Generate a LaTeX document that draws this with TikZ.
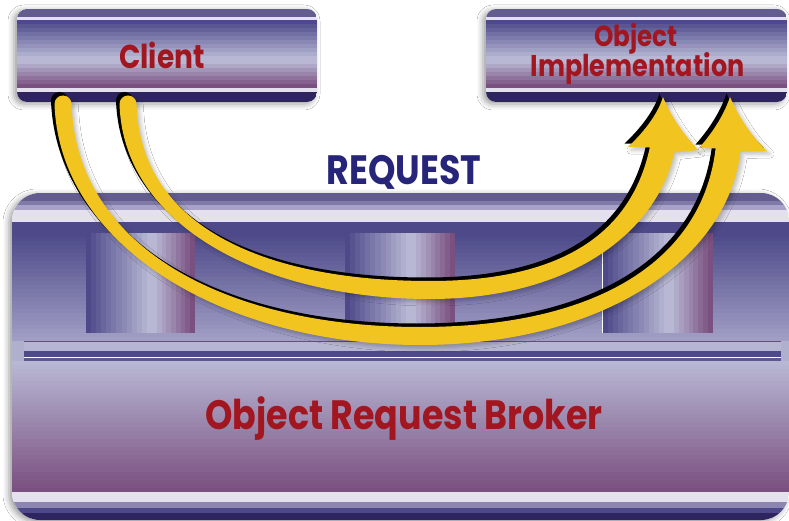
\documentclass[tikz,border=0pt]{standalone}
\usepackage{fontspec}
\newfontfamily\geo[FakeStretch=0.85]{Poppins}
\usetikzlibrary{shadows.blur}

\definecolor{navyband}{HTML}{2E2560}
\definecolor{deep}{HTML}{4E4A8A}
\definecolor{topband}{HTML}{635C8F}
\definecolor{midband}{HTML}{807AA8}
\definecolor{paleband}{HTML}{A8A2C8}
\definecolor{lav}{HTML}{B8B8D4}
\definecolor{plum}{HTML}{7A5080}
\definecolor{whiteband}{HTML}{E4E0EE}
\definecolor{haze}{HTML}{A09EC4}
\definecolor{barlight}{HTML}{B6B6D2}
\definecolor{bardark}{HTML}{5E5890}
\definecolor{barline}{HTML}{6A4E7A}
\definecolor{lowband}{HTML}{8C86B0}
\definecolor{labelred}{HTML}{A1161F}
\definecolor{titlenavy}{HTML}{27257A}
\definecolor{arrowyellow}{HTML}{F2C420}

% stepped gradient: horizontal bands from top to bottom, colour #5 -> #6, #7 steps
\newcommand\hbands[7]{%
  \foreach \k in {1,...,#7}{%
    \pgfmathsetmacro\ya{#2+(#4-#2)*(\k-1)/#7}%
    \pgfmathsetmacro\yb{#2+(#4-#2)*\k/#7+0.4}%
    \pgfmathsetmacro\mix{100*(\k-1)/(#7-1)}%
    \fill[#6!\mix!#5] (#1,\ya) rectangle (#3,\yb);
  }}
% stepped gradient: vertical bands from left to right
\newcommand\vbands[7]{%
  \foreach \k in {1,...,#7}{%
    \pgfmathsetmacro\xa{#1+(#3-#1)*(\k-1)/#7}%
    \pgfmathsetmacro\xb{#1+(#3-#1)*\k/#7+0.4}%
    \pgfmathsetmacro\mix{100*(\k-1)/(#7-1)}%
    \fill[#6!\mix!#5] (\xa,#2) rectangle (\xb,#4);
  }}

% banding of the two small panels (local coordinates, y downwards)
\newcommand\smallpanelbands[1]{%
  \fill[topband] (0,0) rectangle (#1,8.3);
  \fill[whiteband] (0,8) rectangle (#1,11.3);
  \hbands{0}{11}{#1}{51}{deep}{lav}{10}
  \hbands{0}{51}{#1}{79}{lav}{plum}{7}
  \fill[whiteband] (0,79) rectangle (#1,83.3);
  \fill[navyband] (0,83) rectangle (#1,95);
}

% banding of the broker panel
\newcommand\brokerbands{%
  \fill[topband] (0,0) rectangle (777,8.3);
  \fill[midband] (0,8) rectangle (777,12.3);
  \fill[paleband] (0,12) rectangle (777,17.3);
  \fill[whiteband] (0,17) rectangle (777,29.3);
  \fill[deep] (0,29) rectangle (777,40.3);
  \hbands{0}{40}{777}{148}{deep}{haze}{27}
  \fill[barlight!70!haze] (0,148) rectangle (777,170.3);
  \hbands{0}{168}{777}{299}{lav}{plum}{32}
  \fill[whiteband] (0,299) rectangle (777,309.3);
  \fill[lowband] (0,309) rectangle (777,315.3);
  \fill[deep] (0,315) rectangle (777,320.3);
  \fill[navyband] (0,320) rectangle (777,330);
  % three pillars
  \vbands{74}{40}{140}{140}{deep}{lav}{13}
  \vbands{140}{40}{183}{140}{lav}{plum}{9}
  \vbands{333}{40}{399}{140}{deep}{lav}{13}
  \vbands{399}{40}{443}{140}{lav}{plum}{9}
  \vbands{591}{40}{657}{140}{deep}{lav}{13}
  \vbands{657}{40}{701}{140}{lav}{plum}{9}
  \fill[white] (590.4,57) rectangle (591.2,140);
  % rail
  \fill[barline] (12,148) rectangle (769,149);
  \fill[barlight] (12,149) rectangle (769,158.3);
  \fill[deep] (12,158) rectangle (769,164);
  \fill[white] (12,164) rectangle (769,165);
  \fill[bardark] (12,165) rectangle (769,168);
}

\tikzset{
  panel/.style={rectangle, rounded corners=#1, inner sep=0pt, outer sep=0pt,
    fill=white,
    blur shadow={shadow xshift=-3pt, shadow yshift=-2pt,
                 shadow blur radius=6pt, shadow opacity=40}},
  boxtext/.style={font={\geo\bfseries\fontsize{#1}{#1}\selectfont},
    text=labelred, inner sep=0pt, anchor=base},
  titletext/.style={font={\geo\bfseries\fontsize{#1}{#1}\selectfont},
    text=titlenavy, inner sep=0pt, anchor=base},
  % outer request arrow (client -> object implementation), widening towards the head
  outerarrow/.style={insert path={
    (54.5,104) .. controls (59.5,250) and (230,345) .. (420,345)
    .. controls (600,345) and (727.4,261.5) .. (740.4,151.5)
    -- (767,151)
    .. controls (750,135) and (738,115) .. (730,97)
    .. controls (725,112) and (715,130) .. (699,148)
    -- (715.6,148.5)
    .. controls (702.6,258.5) and (600,327) .. (420,327)
    .. controls (230,327) and (76.5,250) .. (71.5,104)
    .. controls (71.5,99.31) and (67.69,95.5) .. (63,95.5)
    .. controls (58.31,95.5) and (54.5,99.31) .. (54.5,104) -- cycle}},
  % inner request arrow
  innerarrow/.style={insert path={
    (119.5,104) .. controls (123.5,230) and (270,299) .. (430,299)
    .. controls (570,299) and (657.2,232.6) .. (674.2,152.6)
    -- (698,150)
    .. controls (684,135) and (670,115) .. (663,97)
    .. controls (658,113) and (646,130) .. (628,147)
    -- (649.8,147.4)
    .. controls (632.8,227.4) and (570,281) .. (430,281)
    .. controls (270,281) and (140.5,230) .. (136.5,104)
    .. controls (136.5,99.31) and (132.69,95.5) .. (128,95.5)
    .. controls (123.31,95.5) and (119.5,99.31) .. (119.5,104) -- cycle}},
  arrowshade/.style={blur shadow={shadow xshift=3pt, shadow yshift=-3pt,
    shadow blur radius=4pt, shadow opacity=25}},
}

\begin{document}
\begin{tikzpicture}[x=1pt, y=-1pt]
\useasboundingbox (0,0) rectangle (789,521);
\fill[white] (0,0) rectangle (789,521);

% panels with their shadows
\node[panel=10pt, minimum width=300pt, minimum height=93pt] (client) at (167,55.5) {};
\node[panel=10pt, minimum width=301pt, minimum height=93pt] (impl) at (636.5,55.5) {};
\node[panel=28pt, minimum width=777pt, minimum height=327pt] (orb) at (400.5,356.5) {};

% banded fills, clipped to each panel
\begin{scope}
  \clip[rounded corners=10pt] (client.north west) rectangle (client.south east);
  \begin{scope}[shift={(17,9)}]\smallpanelbands{300}\end{scope}
\end{scope}
\begin{scope}
  \clip[rounded corners=10pt] (impl.north west) rectangle (impl.south east);
  \begin{scope}[shift={(486,9)}]\smallpanelbands{301}\end{scope}
\end{scope}
\begin{scope}
  \clip[rounded corners=28pt] (orb.north west) rectangle (orb.south east);
  \begin{scope}[shift={(12,193)}]\brokerbands\end{scope}
\end{scope}

% labels
\node[boxtext=33] (clientlabel) at (162,69) {Client};
\node[boxtext=29] (impllabelA) at (636,47) {Object};
\node[boxtext=30] (impllabelB) at (637.5,77) {Implementation};
\node[boxtext=41] (orblabel) at (404,429) {Object Request Broker};
\node[titletext=41] (request) at (404,185) {REQUEST};

% request arrows
\fill[black, shift={(-3.5,-3.5)}, outerarrow];
\fill[arrowyellow, arrowshade, outerarrow];
\fill[black, shift={(-3.5,-3.5)}, innerarrow];
\fill[arrowyellow, arrowshade, innerarrow];
\end{tikzpicture}
\end{document}
